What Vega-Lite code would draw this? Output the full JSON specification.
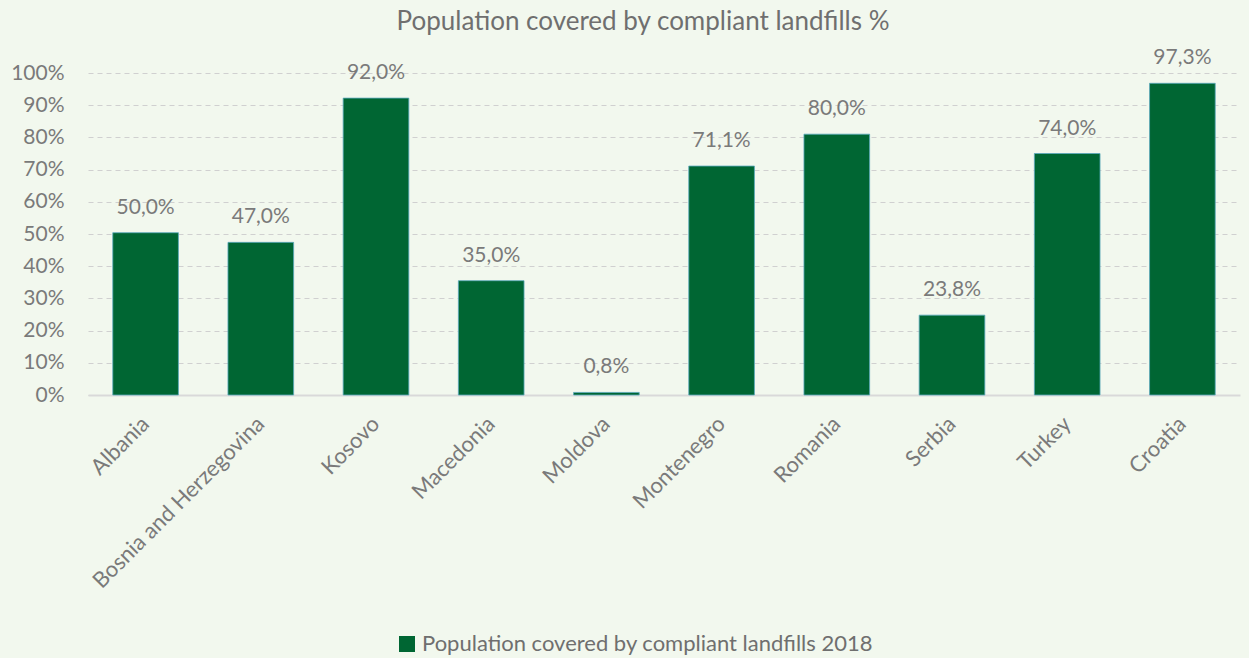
{
  "$schema": "https://vega.github.io/schema/vega-lite/v6.json",
  "width": 1152,
  "height": 322,
  "autosize": "none",
  "padding": {"left": 88, "top": 73, "right": 9, "bottom": 263},
  "background": "#f2f8ee",
  "title": {
    "text": "Population covered  by compliant landfills %",
    "font": "Lato",
    "fontSize": 26,
    "fontWeight": "normal",
    "color": "#6f6f6f",
    "anchor": "middle",
    "dx": -21,
    "offset": 12
  },
  "config": {
    "view": {"stroke": null},
    "font": "Lato"
  },
  "data": {
    "values": [
      {"country": "Albania", "value": 50.4, "label": "50,0%", "series": "Population covered by compliant landfills 2018"},
      {"country": "Bosnia and Herzegovina", "value": 47.4, "label": "47,0%", "series": "Population covered by compliant landfills 2018"},
      {"country": "Kosovo", "value": 92.2, "label": "92,0%", "series": "Population covered by compliant landfills 2018"},
      {"country": "Macedonia", "value": 35.5, "label": "35,0%", "series": "Population covered by compliant landfills 2018"},
      {"country": "Moldova", "value": 0.8, "label": "0,8%", "series": "Population covered by compliant landfills 2018"},
      {"country": "Montenegro", "value": 71.1, "label": "71,1%", "series": "Population covered by compliant landfills 2018"},
      {"country": "Romania", "value": 81.0, "label": "80,0%", "series": "Population covered by compliant landfills 2018"},
      {"country": "Serbia", "value": 24.8, "label": "23,8%", "series": "Population covered by compliant landfills 2018"},
      {"country": "Turkey", "value": 75.0, "label": "74,0%", "series": "Population covered by compliant landfills 2018"},
      {"country": "Croatia", "value": 96.8, "label": "97,3%", "series": "Population covered by compliant landfills 2018"}
    ]
  },
  "encoding": {
    "x": {
      "field": "country",
      "type": "nominal",
      "sort": null,
      "scale": {"paddingInner": 0.43, "paddingOuter": 0.215},
      "axis": {
        "title": null,
        "labelAngle": -45,
        "labelAlign": "right",
        "labelBaseline": "middle",
        "labelFont": "Lato",
        "labelFontSize": 22,
        "labelColor": "#7a7a7a",
        "labelPadding": 25,
        "ticks": false,
        "domainColor": "#d9d9d9",
        "domainWidth": 2,
        "grid": false,
        "labelLimit": 400
      }
    },
    "y": {
      "field": "value",
      "type": "quantitative",
      "scale": {"domain": [0, 100], "nice": false},
      "axis": {
        "title": null,
        "values": [0, 10, 20, 30, 40, 50, 60, 70, 80, 90, 100],
        "labelExpr": "datum.value + '%'",
        "labelFont": "Lato",
        "labelFontSize": 21,
        "labelColor": "#7a7a7a",
        "labelPadding": 24,
        "ticks": false,
        "domain": false,
        "grid": true,
        "gridColor": "#d0d0d0",
        "gridDash": [5, 4],
        "gridWidth": 1
      }
    }
  },
  "layer": [
    {
      "mark": {"type": "bar", "stroke": "#5aa9bd", "strokeWidth": 1, "strokeOpacity": 0.8},
      "encoding": {
        "color": {
          "field": "series",
          "type": "nominal",
          "scale": {"range": ["#006633"]},
          "legend": {
            "title": null,
            "orient": "none",
            "legendX": 308,
            "legendY": 560,
            "symbolType": "square",
            "symbolSize": 256,
            "symbolStrokeWidth": 0,
            "labelFont": "Lato",
            "labelFontSize": 22,
            "labelColor": "#6f6f6f",
            "labelOffset": 4,
            "labelLimit": 700
          }
        }
      }
    },
    {
      "mark": {"type": "text", "baseline": "middle", "dy": -25, "font": "Lato", "fontSize": 21, "color": "#7a7a7a"},
      "encoding": {"text": {"field": "label"}}
    }
  ]
}
